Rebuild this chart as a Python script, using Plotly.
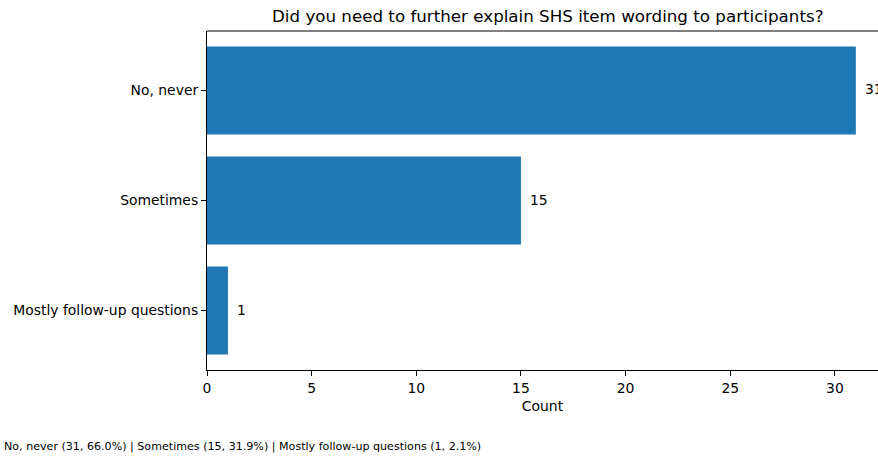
import plotly.graph_objects as go

categories = ["No, never", "Sometimes", "Mostly follow-up questions"]
counts = [31, 15, 1]
percents = [66.0, 31.9, 2.1]
title = "Did you need to further explain SHS item wording to participants?"
x_ticks = [0, 5, 10, 15, 20, 25, 30]

footer = " | ".join(f"{c} ({n}, {p:.1f}%)" for c, n, p in zip(categories, counts, percents))

FONT = "DejaVu Sans"

fig = go.Figure()
fig.add_trace(go.Bar(
    x=counts, y=categories, orientation="h",
    marker=dict(color="#1f77b4", line=dict(width=0)),
    width=0.8,
))

for c, n in zip(categories, counts):
    fig.add_annotation(x=n, y=c, text=str(n), showarrow=False,
                       xanchor="left", xshift=7, yshift=1,
                       font=dict(family=FONT, size=13.9, color="black"))

fig.add_annotation(xref="paper", yref="paper", x=(548 - 207) / 671, y=1,
                   yshift=3, yanchor="bottom", xanchor="center", showarrow=False,
                   text=title, font=dict(family=FONT, size=16.7, color="black"))

fig.add_annotation(xref="paper", yref="paper", x=-205 / 671, y=-(446 - 370) / 339,
                   xanchor="left", yanchor="middle", showarrow=False,
                   text=footer, font=dict(family=FONT, size=11.1, color="black"))

# top spine of the axes box
fig.add_shape(type="line", xref="paper", yref="paper", x0=0, x1=1, y0=1, y1=1,
              layer="above", line=dict(color="black", width=1.2))

fig.update_layout(
    width=878, height=456,
    margin=dict(l=207, r=0, t=31, b=86),
    paper_bgcolor="white", plot_bgcolor="white",
    showlegend=False,
    font=dict(family=FONT, size=13.9, color="black"),
    xaxis=dict(range=[0, 671 / 20.93], tickvals=x_ticks, ticks="outside",
               ticklen=5, tickcolor="black", tickwidth=1.1,
               showline=True, linecolor="black", linewidth=1.1,
               showgrid=False, zeroline=False,
               title=dict(text="Count", font=dict(family=FONT, size=13.9), standoff=6),
               tickfont=dict(family=FONT, size=13.9)),
    yaxis=dict(categoryorder="array", categoryarray=categories,
               range=[2.54, -0.54], ticks="outside", ticklen=5,
               tickcolor="black", tickwidth=1.1,
               showline=True, linecolor="black", linewidth=1.1,
               showgrid=False, zeroline=False,
               tickfont=dict(family=FONT, size=13.9)),
)

fig.write_html("out.html", config={"displayModeBar": False},
               post_script="document.body.style.margin='0';document.body.style.overflow='hidden';")
